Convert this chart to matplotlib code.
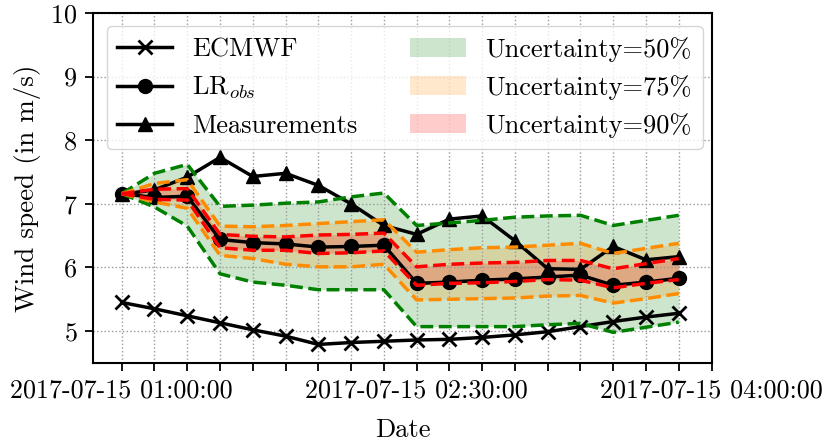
import numpy as np
import pandas as pd
import matplotlib
matplotlib.use("Agg")
import matplotlib.pyplot as plt
import matplotlib.dates as mdates
from matplotlib.ticker import FuncFormatter

plt.rcParams['font.family'] = 'serif'
plt.rcParams['font.serif'] = ['cmr10']
plt.rcParams['mathtext.fontset'] = 'cm'
plt.rcParams['axes.formatter.use_mathtext'] = True

# 10-minute steps
times = ["01:00", "01:10", "01:20", "01:30", "01:40", "01:50", "02:00", "02:10", "02:20",
         "02:30", "02:40", "02:50", "03:00", "03:10", "03:20", "03:30", "03:40", "03:50"]

ecmwf = [5.45, 5.35, 5.24, 5.13, 5.02, 4.92, 4.79, 4.82, 4.84,
         4.86, 4.87, 4.90, 4.94, 4.99, 5.07, 5.15, 5.22, 5.28]
lr_obs = [7.16, 7.10, 7.12, 6.44, 6.39, 6.37, 6.32, 6.33, 6.35,
          5.75, 5.77, 5.80, 5.82, 5.85, 5.88, 5.72, 5.77, 5.83]
meas = [7.15, 7.22, 7.42, 7.73, 7.43, 7.48, 7.29, 7.00, 6.66,
        6.52, 6.76, 6.81, 6.42, 5.98, 5.97, 6.33, 6.12, 6.17]

# uncertainty bands (upper / lower)
u50_hi = [7.16, 7.48, 7.62, 6.96, 6.98, 7.01, 7.03, 7.11, 7.17,
          6.66, 6.70, 6.74, 6.79, 6.81, 6.82, 6.66, 6.74, 6.82]
u50_lo = [7.16, 6.95, 6.65, 5.90, 5.77, 5.72, 5.65, 5.65, 5.65,
          5.07, 5.07, 5.07, 5.07, 5.10, 5.12, 4.98, 5.06, 5.14]
u75_hi = [7.16, 7.32, 7.38, 6.65, 6.64, 6.66, 6.69, 6.72, 6.75,
          6.24, 6.28, 6.31, 6.32, 6.35, 6.38, 6.22, 6.30, 6.38]
u75_lo = [7.16, 7.03, 6.93, 6.19, 6.14, 6.05, 6.01, 6.01, 6.05,
          5.49, 5.50, 5.51, 5.52, 5.55, 5.56, 5.44, 5.51, 5.59]
u90_hi = [7.16, 7.23, 7.24, 6.52, 6.49, 6.48, 6.51, 6.52, 6.54,
          6.01, 6.05, 6.07, 6.08, 6.11, 6.11, 5.98, 6.06, 6.14]
u90_lo = [7.16, 7.07, 7.06, 6.31, 6.27, 6.27, 6.22, 6.23, 6.26,
          5.72, 5.75, 5.76, 5.78, 5.81, 5.80, 5.68, 5.75, 5.81]

x = pd.to_datetime(["2017-07-15 " + t for t in times])

fs = 18.8
fig = plt.figure(figsize=(8.28, 4.42), dpi=100)
ax = fig.add_axes([0.1127, 0.179, 0.7473, 0.7916])

ax.plot(x, ecmwf, 'k-', marker='x', ms=10, mew=2, lw=2.5, label='ECMWF')
ax.plot(x, lr_obs, 'k-', marker='o', ms=10, lw=2.5, label='LR$_{obs}$')
ax.plot(x, meas, 'k-', marker='^', ms=10, lw=2.5, label='Measurements')

bands = [(u50_hi, u50_lo, 'green', 'Uncertainty=50%'),
         (u75_hi, u75_lo, 'darkorange', 'Uncertainty=75%'),
         (u90_hi, u90_lo, 'red', 'Uncertainty=90%')]
for hi, lo, col, lab in bands:
    ax.fill_between(x, lo, hi, color=col, alpha=0.2, lw=0, label=lab)
    ax.plot(x, hi, '--', color=col, lw=2.5)
    ax.plot(x, lo, '--', color=col, lw=2.5)

ax.set_ylim(4.5, 10)
ax.set_xlim(pd.Timestamp("2017-07-15 00:51:20"), pd.Timestamp("2017-07-15 04:00:10"))

ax.xaxis.set_major_locator(mdates.MinuteLocator(byminute=range(0, 60, 10)))


def fmt_date(v, pos):
    d = mdates.num2date(v)
    m = d.hour * 60 + d.minute
    if (m - 60) % 90 == 0:
        return d.strftime("%Y-%m-%d %H:%M:%S")
    return ""


ax.xaxis.set_major_formatter(FuncFormatter(fmt_date))
ax.set_yticks([5, 6, 7, 8, 9, 10])
ax.tick_params(labelsize=fs, length=5.5, width=1.3, pad=6)
ax.grid(True, linestyle=':', color='0.6', lw=1)
for s in ax.spines.values():
    s.set_linewidth(1.5)

ax.set_xlabel('Date', fontsize=19, labelpad=11)
ax.set_ylabel('Wind speed (in m/s)', fontsize=19.5, labelpad=7)

ax.legend(loc='upper left', ncol=2, fontsize=19, handlelength=2.1,
          columnspacing=2.0, handletextpad=0.75, labelspacing=0.5)

fig.savefig('out.png', dpi=100)
